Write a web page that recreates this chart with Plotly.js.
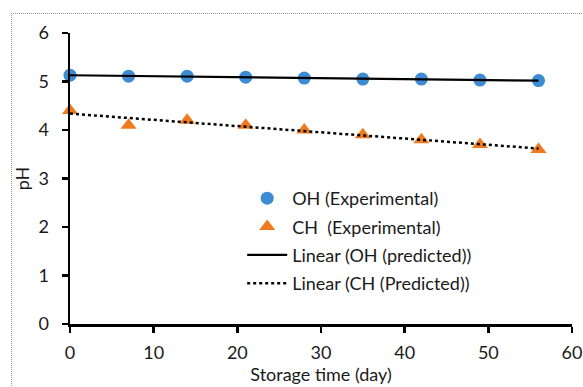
<!DOCTYPE html>
<html>
<head>
<meta charset="utf-8">
<script src="https://cdn.plot.ly/plotly-3.0.1.min.js"></script>
<style>
html,body{margin:0;padding:0;background:#fff;}
#wrap{position:relative;width:583px;height:387px;overflow:hidden;}
#frame{position:absolute;left:11px;top:13px;width:700px;height:500px;border-left:1px dotted #999;border-top:1px dotted #999;pointer-events:none;z-index:5;}
#chart{position:absolute;left:0;top:0;width:583px;height:387px;}
</style>
</head>
<body>
<div id="wrap"><div id="chart"></div><div id="frame"></div></div>
<script>
const days = [0, 7, 14, 21, 28, 35, 42, 49, 56];
const ohExperimental = [5.13, 5.11, 5.11, 5.09, 5.07, 5.05, 5.05, 5.03, 5.02];
const chExperimental = [4.40, 4.10, 4.20, 4.10, 4.00, 3.90, 3.80, 3.70, 3.60];
const xTicks = [0, 10, 20, 30, 40, 50, 60];
const yTicks = [0, 1, 2, 3, 4, 5, 6];

function linFit(xs, ys) {
  const n = xs.length;
  const mx = xs.reduce((a, b) => a + b, 0) / n;
  const my = ys.reduce((a, b) => a + b, 0) / n;
  let sxy = 0, sxx = 0;
  for (let i = 0; i < n; i++) { sxy += (xs[i] - mx) * (ys[i] - my); sxx += (xs[i] - mx) ** 2; }
  const b = sxy / sxx, a = my - b * mx;
  const x0 = xs[0], x1 = xs[n - 1];
  return { x: [x0, x1], y: [a + b * x0, a + b * x1] };
}
const ohFit = linFit(days, ohExperimental);
const chFit = linFit(days, chExperimental);

const FONT = 'Lato, "Open Sans", sans-serif';

const traces = [
  { x: days, y: ohExperimental, mode: 'markers', name: 'OH (Experimental)', type: 'scatter', legendgroup: 'a',
    marker: { symbol: 'circle', size: 13, color: '#3D8BD3' }, cliponaxis: false },
  { x: days, y: chExperimental, mode: 'markers', name: 'CH  (Experimental)', type: 'scatter', legendgroup: 'b',
    marker: { symbol: 'triangle-up', size: 14, color: '#F07A1E' }, cliponaxis: false },
  { x: ohFit.x, y: ohFit.y, mode: 'lines', name: 'Linear (OH (predicted))', type: 'scatter', legendgroup: 'c',
    line: { color: '#000', width: 2.2 } },
  { x: chFit.x, y: chFit.y, mode: 'lines', name: 'Linear (CH (Predicted))', type: 'scatter', legendgroup: 'd',
    line: { color: '#000', width: 2.5, dash: 'dot' } }
];

const layout = {
  width: 583, height: 387,
  margin: { l: 70, r: 11, t: 33, b: 63 },
  paper_bgcolor: '#fff', plot_bgcolor: '#fff',
  font: { family: FONT, size: 18, color: '#1a1a1a' },
  showlegend: true,
  legend: {
    x: 0.343, y: 0.495, xanchor: 'left', yanchor: 'top',
    bgcolor: 'rgba(0,0,0,0)', font: { family: FONT, size: 18, color: '#1a1a1a' },
    itemwidth: 40, traceorder: 'grouped', tracegroupgap: 2
  },
  xaxis: {
    range: [0, 60], tickvals: xTicks, ticktext: xTicks.map(String),
    showline: true, linecolor: '#000', linewidth: 2.5,
    ticks: 'outside', ticklen: 6, tickwidth: 2.5, tickcolor: '#000',
    showgrid: false, zeroline: false, ticklabelstandoff: 5,
    tickfont: { family: FONT, size: 18, color: '#1a1a1a' },
    title: { text: 'Storage time (day)', font: { family: FONT, size: 18, color: '#1a1a1a' }, standoff: 5 }
  },
  yaxis: {
    range: [0, 6], tickvals: yTicks, ticktext: yTicks.map(String),
    showline: true, linecolor: '#000', linewidth: 2.5,
    ticks: 'outside', ticklen: 6, tickwidth: 2.5, tickcolor: '#000',
    showgrid: false, zeroline: false, ticklabelstandoff: 9,
    tickfont: { family: FONT, size: 18, color: '#1a1a1a' },
    title: { text: 'pH', font: { family: FONT, size: 18, color: '#1a1a1a' }, standoff: 4 }
  }
};

Plotly.newPlot('chart', traces, layout, { displayModeBar: false, staticPlot: true });
</script>
</body>
</html>
